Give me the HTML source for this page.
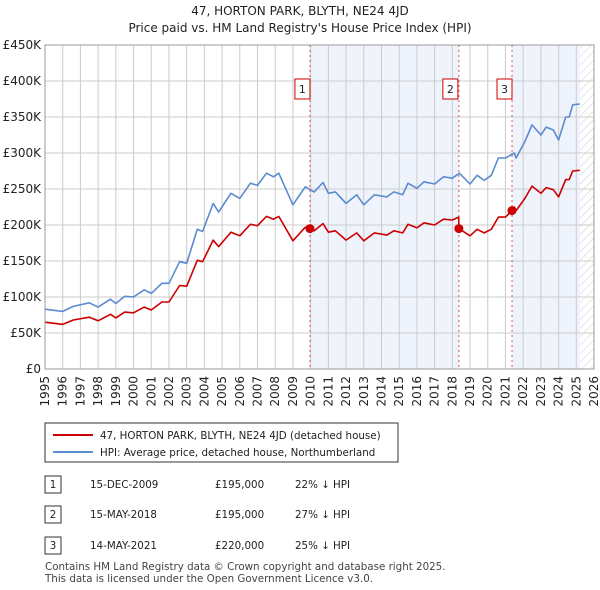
<!DOCTYPE html>
<html><head><meta charset="utf-8">
<style>
body{margin:0;background:#fff;font-family:"DejaVu Sans",sans-serif;}
#wrap{position:relative;width:600px;height:590px;overflow:hidden;}
</style></head>
<body>
<div id="wrap">
<svg id="chart" width="600" height="590" xmlns="http://www.w3.org/2000/svg" font-family="DejaVu Sans, sans-serif">
<defs>
<pattern id="hatch" width="6" height="6" patternUnits="userSpaceOnUse" patternTransform="rotate(45)">
<line x1="0" y1="0" x2="0" y2="6" stroke="#ccc" stroke-width="1"/>
</pattern>
</defs>
<text x="300" y="15" text-anchor="middle" font-size="12" fill="#222">47, HORTON PARK, BLYTH, NE24 4JD</text>
<text x="300" y="32" text-anchor="middle" font-size="12" fill="#222">Price paid vs. HM Land Registry's House Price Index (HPI)</text>
<g id="plot"></g>
<g>
<rect x="45" y="423" width="353" height="39" fill="#fff" stroke="#333" stroke-width="1"/>
<line x1="53" y1="435" x2="93" y2="435" stroke="#cc0000" stroke-width="2"/>
<text x="100" y="439" font-size="10.3" fill="#222">47, HORTON PARK, BLYTH, NE24 4JD (detached house)</text>
<line x1="53" y1="452" x2="93" y2="452" stroke="#5b8bd0" stroke-width="2"/>
<text x="100" y="456" font-size="10.3" fill="#222">HPI: Average price, detached house, Northumberland</text>
</g>
<g font-size="10.3" fill="#222">
<rect x="45" y="476" width="16" height="17" fill="#fff" stroke="#333"/><text x="53" y="488" text-anchor="middle">1</text>
<text x="90" y="488">15-DEC-2009</text><text x="215" y="488">£195,000</text><text x="295" y="488">22% ↓ HPI</text>
<rect x="45" y="506" width="16" height="17" fill="#fff" stroke="#333"/><text x="53" y="518" text-anchor="middle">2</text>
<text x="90" y="518">15-MAY-2018</text><text x="215" y="518">£195,000</text><text x="295" y="518">27% ↓ HPI</text>
<rect x="45" y="537" width="16" height="17" fill="#fff" stroke="#333"/><text x="53" y="549" text-anchor="middle">3</text>
<text x="90" y="549">14-MAY-2021</text><text x="215" y="549">£220,000</text><text x="295" y="549">25% ↓ HPI</text>
</g>
<text x="45" y="570" font-size="10.3" fill="#444">Contains HM Land Registry data © Crown copyright and database right 2025.</text>
<text x="45" y="582" font-size="10.3" fill="#444">This data is licensed under the Open Government Licence v3.0.</text>
</svg>
</div>
<script>
const hpiYears=[1995.0,1996.0,1996.6,1997.5,1998.0,1998.7,1999.0,1999.5,2000.0,2000.6,2001.0,2001.6,2002.0,2002.6,2003.0,2003.6,2003.9,2004.5,2004.8,2005.5,2006.0,2006.6,2007.0,2007.5,2007.9,2008.2,2009.0,2009.7,2010.2,2010.7,2011.0,2011.4,2012.0,2012.6,2013.0,2013.6,2014.3,2014.7,2015.2,2015.5,2016.0,2016.4,2017.0,2017.5,2018.0,2018.4,2019.0,2019.4,2019.8,2020.2,2020.6,2021.0,2021.5,2021.6,2022.1,2022.5,2023.0,2023.3,2023.7,2024.0,2024.4,2024.6,2024.8,2025.2];
const hpiValues=[83,80,87,92,86,97,91,101,100,110,105,119,119,149,147,194,191,230,218,244,237,258,255,272,267,272,228,253,246,259,244,246,230,242,228,242,239,246,242,258,251,260,257,267,265,272,257,269,262,269,293,293,300,293,316,339,325,336,332,318,350,350,367,368];
const propYears=[1995.0,1996.0,1996.6,1997.5,1998.0,1998.7,1999.0,1999.5,2000.0,2000.6,2001.0,2001.6,2002.0,2002.6,2003.0,2003.6,2003.9,2004.5,2004.8,2005.5,2006.0,2006.6,2007.0,2007.5,2007.9,2008.2,2009.0,2009.7,2009.96,2010.2,2010.7,2011.0,2011.4,2012.0,2012.6,2013.0,2013.6,2014.3,2014.7,2015.2,2015.5,2016.0,2016.4,2017.0,2017.5,2018.0,2018.36,2018.37,2019.0,2019.4,2019.8,2020.2,2020.6,2021.0,2021.37,2021.5,2021.6,2022.1,2022.5,2023.0,2023.3,2023.7,2024.0,2024.4,2024.6,2024.8,2025.2];
const propValues=[65,62,68,72,67,76,71,79,78,86,82,93,93,116,115,151,149,179,170,190,185,201,199,212,208,212,178,197,195,192,202,190,192,179,189,178,189,186,192,189,201,196,203,200,208,207,211,195,185,194,189,194,211,211,220,225,220,237,254,244,252,249,239,263,263,275,276];
const saleYears=[2009.96,2018.37,2021.37];
const saleValues=[195,195,220];
const saleLabels=["1","2","3"];
const yTicks=[0,50,100,150,200,250,300,350,400,450];
const yTickLabels=["£0","£50K","£100K","£150K","£200K","£250K","£300K","£350K","£400K","£450K"];
const xTicks=[1995,1996,1997,1998,1999,2000,2001,2002,2003,2004,2005,2006,2007,2008,2009,2010,2011,2012,2013,2014,2015,2016,2017,2018,2019,2020,2021,2022,2023,2024,2025,2026];
const dataEnd=2025.2;

const NS="http://www.w3.org/2000/svg";
const L=45,R=594,T=45,B=369;
const X=y=>L+(y-1995)*(R-L)/31;
const Y=v=>B-v*(B-T)/450;
const g=document.getElementById('plot');
function mk(tag,attrs,parent){const e=document.createElementNS(NS,tag);for(const k in attrs)e.setAttribute(k,attrs[k]);(parent||g).appendChild(e);return e;}

let e;
e=mk('rect',{x:X(saleYears[0]),y:T,width:X(saleYears[1])-X(saleYears[0]),height:B-T,fill:'#eef3fc'});


e=mk('rect',{x:X(saleYears[2]),y:T,width:X(dataEnd)-X(saleYears[2]),height:B-T,fill:'#eef3fc'});


e=mk('rect',{x:X(dataEnd),y:T,width:R-X(dataEnd),height:B-T,fill:'url(#hatch)'});



xTicks.forEach(t=>{
  e=mk('line',{x1:X(t),x2:X(t),y1:T,y2:B,stroke:'#ccc','stroke-width':1});
  
  
  const tx=X(t)+4, ty=B+7;
  e=mk('text',{x:tx,y:ty,'text-anchor':'end','font-size':12,fill:'#222',transform:'rotate(-90 '+tx+' '+ty+')'});
  e.textContent=t;
  
  
});
yTicks.forEach((t,i)=>{
  e=mk('line',{x1:L,x2:R,y1:Y(t),y2:Y(t),stroke:'#ccc','stroke-width':1});
  
  
  e=mk('text',{x:L-4,y:Y(t)+4,'text-anchor':'end','font-size':12,fill:'#222'});
  e.textContent=yTickLabels[i];
  
  
});

saleYears.forEach((s,i)=>{
  e=mk('line',{x1:X(s),x2:X(s),y1:T,y2:B,stroke:'#e05050','stroke-width':1,'stroke-dasharray':'2,3'});
  
  
});

const pts=(xs,vs)=>xs.map((y,i)=>X(y).toFixed(1)+','+Y(vs[i]).toFixed(1)).join(' ');
e=mk('polyline',{points:pts(hpiYears,hpiValues),fill:'none',stroke:'#5b8bd0','stroke-width':1.6,'stroke-linejoin':'round'});


e=mk('polyline',{points:pts(propYears,propValues),fill:'none',stroke:'#cc0000','stroke-width':1.6,'stroke-linejoin':'round'});



const boxOffsets=[-11,-12,-11];
saleYears.forEach((s,i)=>{
  e=mk('circle',{cx:X(s),cy:Y(saleValues[i]),r:4.5,fill:'#cc0000'});
  
  
  const bx=X(s)+boxOffsets[i]-4;
  e=mk('rect',{x:bx,y:79,width:15,height:20,fill:'#fff',stroke:'#cc0000','stroke-width':1});
  
  
  e=mk('text',{x:bx+7.5,y:93,'text-anchor':'middle','font-size':11,fill:'#222'});
  e.textContent=saleLabels[i];
  
  
});

e=mk('rect',{x:L,y:T,width:R-L,height:B-T,fill:'none',stroke:'#999','stroke-width':1});


</script>
</body></html>
